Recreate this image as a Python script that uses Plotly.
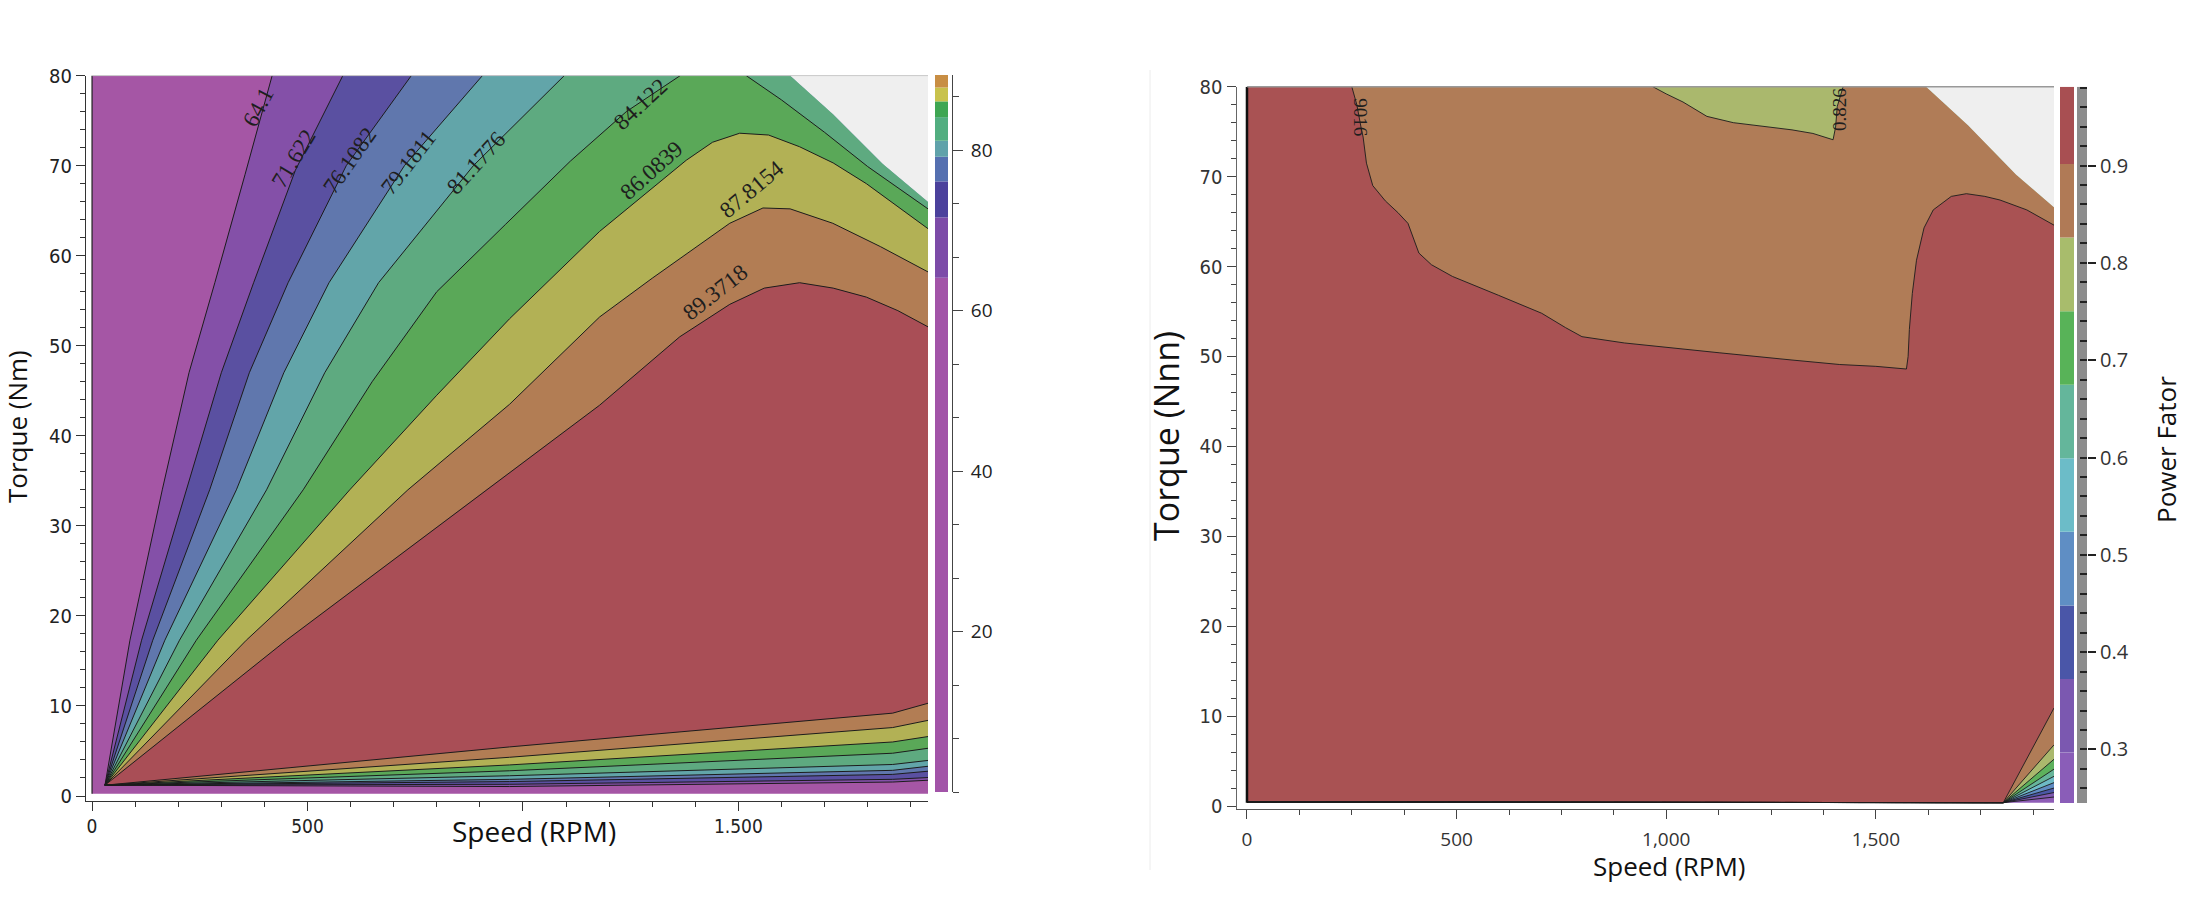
import plotly.graph_objects as go

W, H = 2194, 923

# ======================= LEFT: efficiency map =======================
eff_levels = [64.1, 71.622, 76.1082, 79.1811, 81.1776, 84.122, 86.0839, 87.8154, 89.3718]
eff_labels = ["64.1", "71.622", "76.1082", "79.1811", "81.1776", "84.122", "86.0839", "87.8154", "89.3718"]

# iso-efficiency lines, upper branch (speed RPM, torque Nm)
eff_upper_speed = [
    [30, 88, 163, 225, 285, 355, 418],
    [30, 115, 219, 300, 375, 472, 582],
    [30, 141, 273, 365, 455, 590, 741],
    [30, 169, 335, 445, 550, 725, 906],
    [30, 203, 405, 540, 665, 885, 1096],
    [30, 242, 490, 650, 800, 960, 1110, 1240, 1365],
    [30, 292, 598, 800, 969, 1178, 1379, 1440, 1503, 1570, 1642, 1720, 1797, 1940],
    [30, 358, 733, 969, 1178, 1300, 1410, 1480, 1557, 1620, 1719, 1830, 1940],
    [30, 451, 915, 1178, 1364, 1480, 1560, 1642, 1720, 1797, 1870, 1940],
]
eff_upper_torque = [
    [1.2, 17.3, 34, 47, 57, 69, 80],
    [1.2, 17.3, 34, 47, 57, 69.5, 80],
    [1.2, 17.3, 34, 47, 57, 70, 80],
    [1.2, 17.3, 34, 47, 57, 70, 80],
    [1.2, 17.3, 34, 47, 57, 70, 80],
    [1.2, 17.3, 34, 46, 56, 63.5, 70.5, 76, 80],
    [1.2, 17.3, 34, 44.5, 53, 62.7, 70.6, 72.6, 73.6, 73.4, 72.1, 70.3, 68.0, 63.0],
    [1.2, 17.3, 34, 43.5, 53.2, 57.5, 61.2, 63.6, 65.3, 65.2, 63.6, 61.0, 58.2],
    [1.2, 17.3, 34, 43.4, 51.0, 54.6, 56.4, 57.0, 56.4, 55.4, 53.9, 52.1],
]
# second (high-speed) branch of the 84.122 line
eff_branch2_speed = [1518, 1600, 1700, 1800, 1940]
eff_branch2_torque = [80, 77.3, 73.7, 69.9, 65.2]

# iso-efficiency lines, lower (low-torque) branch
eff_lower_speed = [30, 969, 1858, 1940]
eff_lower_torque = [
    [1.2, 1.05, 1.55, 1.75],
    [1.2, 1.3, 1.85, 2.05],
    [1.2, 1.6, 2.4, 2.75],
    [1.2, 1.85, 2.85, 3.3],
    [1.2, 2.25, 3.5, 3.95],
    [1.2, 2.8, 4.75, 5.3],
    [1.2, 3.45, 6.0, 6.6],
    [1.2, 4.3, 7.6, 8.4],
    [1.2, 5.45, 9.2, 10.3],
]

eff_label_speed = [385, 468, 598, 735, 893, 1272, 1298, 1530, 1446]
eff_label_torque = [76.5, 70.8, 70.6, 70.3, 70.3, 76.8, 69.5, 67.4, 55.9]
eff_label_angle = [-62, -59, -55, -52, -48, -43, -42, -40, -38]

# maximum torque envelope
env_speed = [1620, 1720, 1835, 1940]
env_torque = [80, 75.7, 70.2, 66.0]

# ======================= RIGHT: power factor map =======================
pf_levels = [0.2968, 0.3724, 0.448, 0.5236, 0.5992, 0.6748, 0.7504, 0.826, 0.9016]
pf_range = [0.245, 0.981]
pf_fan_speed = [0, 1804, 1925]
pf_fan_torque = [
    [0.45, 0.37, 1.0],
    [0.45, 0.37, 1.5],
    [0.45, 0.37, 2.0],
    [0.45, 0.37, 2.6],
    [0.45, 0.37, 3.3],
    [0.45, 0.37, 4.1],
    [0.45, 0.37, 5.2],
    [0.45, 0.37, 6.8],
    [0.45, 0.37, 10.9],
]
# 0.9016 iso-line (upper boundary of the high-PF region)
pf_hi_speed = [250, 262, 272, 277, 285, 300, 330, 360, 384, 400, 410, 440, 490, 600, 703, 760, 799, 900,
               1000, 1128, 1300, 1414, 1500, 1573, 1577, 1580, 1587, 1597, 1615, 1637, 1680, 1716, 1760,
               1796, 1860, 1925]
pf_hi_torque = [80, 78, 75.5, 74.4, 71.5, 69, 67.3, 66, 64.8, 62.8, 61.5, 60.2, 58.9, 56.8, 54.8, 53.2, 52.2,
                51.5, 51.0, 50.4, 49.6, 49.1, 48.9, 48.6, 50, 53, 57, 60.7, 64.3, 66.3, 67.8, 68.1, 67.8,
                67.4, 66.3, 64.6]
# 0.826 iso-line (pocket at the top)
pf_lo_speed = [968, 1000, 1040, 1097, 1160, 1235, 1300, 1350, 1398, 1404, 1408, 1422]
pf_lo_torque = [80, 79.2, 78.3, 76.7, 76.0, 75.6, 75.2, 74.8, 74.1, 75.5, 77.8, 80]

pf_label_text = ["9016", "0.826"]
pf_label_speed = [272, 1412]
pf_label_torque = [76.6, 77.5]
pf_label_angle = [90, -90]

# ======================= colours =======================
LEFT_FILL = ['#a556a5', '#8450a8', '#5a50a1', '#6077ad', '#62a5a9', '#5eaa80', '#5aa858',
             '#b2b155', '#b27d54', '#a94e56']
LEFT_BAR = ['#a254a8', '#7c4ba8', '#4b419c', '#5570b0', '#60a2aa', '#52ae80', '#3ea652',
            '#c8c24c', '#c88e44']
RIGHT_FILL = ['#8e5db6', '#7d59ae', '#4b58a6', '#5f8bc2', '#6dbac6', '#66b59a', '#5db15c',
              '#aab86d', '#b07c57', '#a95253']
RIGHT_BAR = ['#8a5db8', '#7b58b0', '#4a56a8', '#5f8ec4', '#6cbcc8', '#64b69b', '#58b358',
             '#a8bc6c', '#b07a56', '#a84f52']
GREY_ZONE = '#efefef'
LINE_C = '#1c1c1c'

COND = "DejaVu Sans Condensed, Liberation Sans Narrow, Arial Narrow, DejaVu Sans, sans-serif"
SANS = "Open Sans, Noto Sans, DejaVu Sans, sans-serif"
SERIF = "Liberation Serif, DejaVu Serif, serif"

XL = 1940
XR = 1925

fig = go.Figure()


def poly(xs, ys, color, xa, ya):
    fig.add_trace(go.Scatter(x=xs, y=ys, mode="lines", fill="toself", fillcolor=color,
                             line=dict(width=0, color=color), hoverinfo="skip",
                             showlegend=False, xaxis=xa, yaxis=ya))


def iso(xs, ys, xa, ya, width=1.0):
    fig.add_trace(go.Scatter(x=xs, y=ys, mode="lines", line=dict(width=width, color=LINE_C),
                             hoverinfo="skip", showlegend=False, xaxis=xa, yaxis=ya))


# ---------- left map ----------
poly([0, XL] + env_speed[::-1] + [0], [0.25, 0.25] + env_torque[::-1] + [80], LEFT_FILL[0], "x", "y")
for k in range(len(eff_levels)):
    xs = list(eff_upper_speed[k])
    ys = list(eff_upper_torque[k])
    if ys[-1] >= 80:
        if k == 5:
            xs += eff_branch2_speed
            ys += eff_branch2_torque
        else:
            xs += env_speed
            ys += env_torque
    xs += eff_lower_speed[::-1]
    ys += eff_lower_torque[k][::-1]
    poly(xs, ys, LEFT_FILL[k + 1], "x", "y")
poly(env_speed + [XL], env_torque + [80], GREY_ZONE, "x", "y")
for k in range(len(eff_levels)):
    iso(eff_lower_speed[::-1] + eff_upper_speed[k], eff_lower_torque[k][::-1] + eff_upper_torque[k], "x", "y")
iso(eff_branch2_speed, eff_branch2_torque, "x", "y")

# left colour bar
edges_l = [0] + eff_levels
fig.add_trace(go.Bar(x=[0.5] * len(eff_levels), y=[edges_l[i + 1] - edges_l[i] for i in range(len(eff_levels))],
                     base=edges_l[:-1], width=1, marker=dict(color=LEFT_BAR, line=dict(width=0)),
                     hoverinfo="skip", showlegend=False, xaxis="x3", yaxis="y3"))

# ---------- right map ----------
poly([0, XL] + env_speed[::-1] + [0], [0.37, 0.37] + env_torque[::-1] + [80], RIGHT_FILL[0], "x2", "y2")
for k in range(len(pf_levels) - 1):
    poly(pf_fan_speed + env_speed[::-1] + [0], pf_fan_torque[k] + env_torque[::-1] + [80],
         RIGHT_FILL[k + 1], "x2", "y2")
poly([0] + pf_hi_speed + pf_fan_speed[::-1], [80] + pf_hi_torque + pf_fan_torque[-1][::-1],
     RIGHT_FILL[9], "x2", "y2")
poly(pf_lo_speed, pf_lo_torque, RIGHT_FILL[7], "x2", "y2")
poly(env_speed + [XL], env_torque + [80], GREY_ZONE, "x2", "y2")
for k in range(len(pf_levels)):
    iso(pf_fan_speed, pf_fan_torque[k], "x2", "y2", 0.9)
iso(pf_hi_speed, pf_hi_torque, "x2", "y2", 0.9)
iso(pf_lo_speed, pf_lo_torque, "x2", "y2", 0.9)

# right colour bar
edges_r = [pf_range[0]] + pf_levels + [pf_range[1]]
fig.add_trace(go.Bar(x=[7] * (len(edges_r) - 1), y=[edges_r[i + 1] - edges_r[i] for i in range(len(edges_r) - 1)],
                     base=edges_r[:-1], width=14, marker=dict(color=RIGHT_BAR, line=dict(width=0)),
                     hoverinfo="skip", showlegend=False, xaxis="x4", yaxis="y4"))
fig.add_trace(go.Bar(x=[22], y=[pf_range[1] - pf_range[0]], base=[pf_range[0]], width=10,
                     marker=dict(color='#8c8c8c', line=dict(width=0)),
                     hoverinfo="skip", showlegend=False, xaxis="x4", yaxis="y4"))

# ---------- annotations ----------
ann = []
for t, sx, ty, a in zip(eff_labels, eff_label_speed, eff_label_torque, eff_label_angle):
    ann.append(dict(x=sx, y=ty, xref="x", yref="y", text=t, textangle=a, showarrow=False,
                    font=dict(family=SERIF, size=23, color='#1e1e1e')))
for t, sx, ty, a in zip(pf_label_text, pf_label_speed, pf_label_torque, pf_label_angle):
    ann.append(dict(x=sx, y=ty, xref="x2", yref="y2", text=t, textangle=a, showarrow=False,
                    font=dict(family=SERIF, size=19, color='#1e1e1e')))


def title(text, x, y, size, angle=0):
    ann.append(dict(x=x / W, y=1 - y / H, xref="paper", yref="paper", text=text, textangle=angle,
                    showarrow=False, xanchor="center", yanchor="middle",
                    font=dict(family=SANS, size=size, color='#111')))


title("Torque (Nm)", 17, 427, 26, -90)
title("Speed (RPM)", 534, 831, 28)
title("Torque (Nnn)", 1166, 436, 34, -90)
title("Speed (RPM)", 1669, 866, 26)
title("Power Fator", 2166, 450, 26, -90)

shapes = [
    dict(type="line", xref="x", yref="y", x0=0, x1=0, y0=0.25, y1=80, line=dict(color='#222', width=1.2)),
    dict(type="line", xref="x2", yref="y2", x0=0, x1=0, y0=0.37, y1=80, line=dict(color='#111', width=2.5)),
    dict(type="line", xref="x domain", yref="y domain", x0=0.007, x1=1, y0=1, y1=1,
         line=dict(color='#c8c8c8', width=1)),
    dict(type="line", xref="x2 domain", yref="y2 domain", x0=0.013, x1=1, y0=1, y1=1,
         line=dict(color='#999999', width=1.5)),
    dict(type="line", xref="paper", yref="paper", x0=1150 / W, x1=1150 / W, y0=1 - 870 / H, y1=1 - 70 / H,
         line=dict(color='#ececec', width=1)),
]

axis_common = dict(showgrid=False, zeroline=False, fixedrange=True, automargin=False)

fig.update_layout(
    width=W, height=H, margin=dict(l=0, r=0, t=0, b=0, pad=0), autosize=False,
    paper_bgcolor='white', plot_bgcolor='white', barmode='overlay', showlegend=False,
    annotations=ann, shapes=shapes,
    xaxis=dict(domain=[86 / W, 928 / W], range=[-14, XL], anchor="y", showline=True, linecolor='#333',
               ticks="outside", ticklen=9, tickcolor='#333', tickmode="array",
               tickvals=[0, 500, 1000, 1500], ticktext=["0", "500", "", "1.500"],
               minor=dict(dtick=100, tick0=0, ticks="outside", ticklen=5, tickcolor='#333'),
               tickfont=dict(family=COND, size=19, color='#222'), **axis_common),
    yaxis=dict(domain=[1 - 800.5 / H, 1 - 75.6 / H], range=[-0.5, 80], anchor="x", showline=True,
               linecolor='#333', ticks="outside", ticklen=9, tickcolor='#333', tickmode="linear",
               tick0=0, dtick=10,
               minor=dict(dtick=2, tick0=0, ticks="outside", ticklen=5, tickcolor='#333'),
               tickfont=dict(family=COND, size=20, color='#222'), **axis_common),
    xaxis2=dict(domain=[1236.5 / W, 2054 / W], range=[-25, XR], anchor="y2", showline=True,
                linecolor='#555', ticks="outside", ticklen=9, tickcolor='#444', tickmode="array",
                tickvals=[0, 500, 1000, 1500], ticktext=["0", "500", "1,000", "1,500"],
                ticklabelstandoff=4,
                minor=dict(dtick=125, tick0=0, ticks="outside", ticklen=5, tickcolor='#444'),
                tickfont=dict(family=SANS, size=19, color='#333'), **axis_common),
    yaxis2=dict(domain=[1 - 808.7 / H, 1 - 86.7 / H], range=[-0.3, 80], anchor="x2", showline=True,
                linecolor='#666', ticks="outside", ticklen=9, tickcolor='#444', tickmode="linear",
                tick0=0, dtick=10,
                minor=dict(dtick=2, tick0=0, ticks="outside", ticklen=5, tickcolor='#444'),
                tickfont=dict(family=COND, size=20, color='#333'), **axis_common),
    xaxis3=dict(domain=[935 / W, 952 / W], range=[0, 17 / 13], anchor="y3", visible=False, **axis_common),
    yaxis3=dict(domain=[1 - 792 / H, 1 - 75 / H], range=[0, eff_levels[-1]], anchor="x3", side="right",
                showline=True, linecolor='#444', ticks="outside", ticklen=10, tickcolor='#444',
                tickmode="array", tickvals=[20, 40, 60, 80], ticklabelstandoff=4,
                minor=dict(dtick=20 / 3, tick0=0, ticks="outside", ticklen=6, tickcolor='#444'),
                tickfont=dict(family=SANS, size=19, color='#222'), **axis_common),
    xaxis4=dict(domain=[2060 / W, 2087 / W], range=[0, 27], anchor="y4", visible=False, **axis_common),
    yaxis4=dict(domain=[1 - 803 / H, 1 - 86.7 / H], range=pf_range, anchor="x4", side="right",
                showline=False, ticks="outside", ticklen=8, tickcolor='#222', tickwidth=1.5,
                tickmode="array", tickvals=[0.3, 0.4, 0.5, 0.6, 0.7, 0.8, 0.9],
                ticktext=["0.3", "0.4", "0.5", "0.6", "0.7", "0.8", "0.9"],
                minor=dict(dtick=0.02, tick0=0, ticks="inside", ticklen=7, tickcolor='#222', tickwidth=1.5),
                tickfont=dict(family=SANS, size=20, color='#333'), **axis_common),
)

fig.write_html("out.html")
